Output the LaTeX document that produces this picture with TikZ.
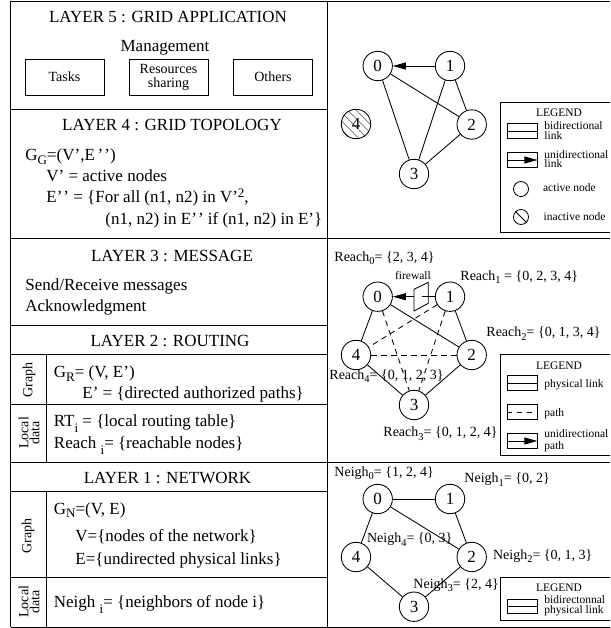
\documentclass[tikz,border=0pt]{standalone}
\usepackage{fontspec}
\setmainfont{Liberation Serif}
\usetikzlibrary{arrows.meta, patterns.meta}
\newcommand{\bodysub}[1]{\raisebox{-3.5pt}{\fontsize{13}{13}\selectfont #1}}
\newcommand{\indexsub}{\raisebox{-6pt}{\fontsize{13}{13}\selectfont i}}
\newcommand{\labelsub}[1]{\raisebox{-3.5pt}{\fontsize{10.5}{10.5}\selectfont #1}}
\newcommand{\twoprime}{'\kern1pt'}

\begin{document}
\begin{tikzpicture}[
  x=1pt, y=-1pt, line width=0.85pt,
  title/.style={anchor=base, inner sep=0pt, font=\fontsize{17}{20}\selectfont},
  body/.style={anchor=base west, inner sep=0pt, font=\fontsize{17}{20}\selectfont},
  reach/.style={anchor=base west, inner sep=0pt, font=\fontsize{14}{16}\selectfont},
  small/.style={anchor=base west, inner sep=0pt, font=\fontsize{11.5}{13}\selectfont},
  bx/.style={draw, minimum width=79pt, minimum height=36pt, inner sep=0pt, align=center, font=\fontsize{14}{14}\selectfont},
  side/.style={rotate=90, inner sep=0pt, align=center, font=\fontsize{14}{11}\selectfont},
  vertex/.style={draw, circle, minimum size=29.4pt, inner sep=0pt, fill=white, font=\fontsize{17}{20}\selectfont},
  bar/.style={draw, minimum width=30pt, minimum height=14.3pt, inner sep=0pt},
  dot/.style={draw, circle, minimum size=15pt, inner sep=0pt},
  oneway/.style={-{Stealth[length=13pt, width=7pt, inset=0pt]}},
  pathline/.style={dash pattern=on 5.5pt off 4.5pt}
]
  \clip (0,0) rectangle (610,628);

  % Frame
  \draw (10.5,1) -- (610,1);
  \draw (10.5,238.5) -- (610,238.5);
  \draw (10.5,462) -- (610,462);
  \draw (10.5,627) -- (610,627);
  \draw (10.5,1) -- (10.5,627);
  \draw (327.5,1) -- (327.5,627);
  \draw (10.5,109) -- (327.5,109);
  \draw (10.5,325) -- (327.5,325);
  \draw (10.5,354) -- (327.5,354);
  \draw (10.5,404) -- (327.5,404);
  \draw (10.5,491) -- (327.5,491);
  \draw (10.5,577) -- (327.5,577);
  \draw (46.5,354) -- (46.5,462);
  \draw (46.5,491) -- (46.5,627);

  % Layer 5
  \node[title] (lay5) at (168,22.5) {LAYER 5 : GRID APPLICATION};
  \node[title] (mgmt) at (165,51.7) {Management};
  \node[bx] (tasks) at (64.5,77) {Tasks};
  \node[bx] (share) at (168.5,77) {Resources\\sharing};
  \node[bx] (others) at (273,77) {Others};

  % Layer 4
  \node[title] (lay4) at (172,131) {LAYER 4 : GRID TOPOLOGY};
  \node[body] (gg) at (25,160.7) {G\bodysub{G}=(V',E\,\twoprime)};
  \node[body] (vact) at (46,181.5) {V' = active nodes};
  \node[body] (eall) at (46,203) {E\twoprime{} = \{For all (n1, n2) in V'\raisebox{5pt}{\fontsize{13}{13}\selectfont 2},};
  \node[body] (eif) at (105,225) {(n1, n2) in E\twoprime{} if (n1, n2) in E'\}};

  % Layer 3
  \node[title] (lay3) at (172,261) {LAYER 3 : MESSAGE};
  \node[body] (send) at (25,290) {Send/Receive messages};
  \node[body] (ack) at (25,311) {Acknowledgment};

  % Layer 2
  \node[title] (lay2) at (170,346.7) {LAYER 2 : ROUTING};
  \node[side] (graph2) at (29,380) {Graph};
  \node[side] (local2) at (29,433) {Local\\data};
  \node[body] (gr) at (53.5,377.7) {G\bodysub{R}= (V, E')};
  \node[body] (edir) at (82,398) {E' = \{directed authorized paths\}};
  \node[body] (rt) at (53.5,426.7) {RT\indexsub{} = \{local routing table\}};
  \node[body] (reachi) at (53.5,448) {Reach \indexsub{}= \{reachable nodes\}};

  % Layer 1
  \node[title] (lay1) at (167.5,483) {LAYER 1 : NETWORK};
  \node[side] (graph1) at (28,535.7) {Graph};
  \node[side] (local1) at (29,601.7) {Local\\data};
  \node[body] (gn) at (53.5,514) {G\bodysub{N}=(V, E)};
  \node[body] (vnet) at (75,541.7) {V=\{nodes of the network\}};
  \node[body] (eund) at (75,564) {E=\{undirected physical links\}};
  \node[body] (neighi) at (53.5,607.7) {Neigh \indexsub{}= \{neighbors of node i\}};

  % Top graph
  \node[vertex] (a0) at (377.7,66) {0};
  \node[vertex] (a1) at (450,66) {1};
  \node[vertex] (a2) at (471.7,124.5) {2};
  \node[vertex] (a3) at (414,174) {3};
  \node[vertex, pattern={Lines[angle=-45, distance=6pt, line width=0.6pt]}, pattern color=black!70] (a4) at (356,124) {4};
  \draw[oneway] (a1) -- (a0);
  \draw (a0) -- (a2);
  \draw (a0) -- (a3);
  \draw (a1) -- (a2);
  \draw (a1) -- (a3);
  \draw (a2) -- (a3);

  % Top legend
  \draw (500,102) rectangle (614,232);
  \node[title, font=\fontsize{11.5}{13}\selectfont] (leg1) at (559,116.7) {LEGEND};
  \node[bar] (bar1) at (522,131) {};
  \draw (bar1.west) -- (bar1.east);
  \node[small] (bi1) at (544,130) {bidirectional};
  \node[small] (bi2) at (544,139.3) {link};
  \node[bar] (bar2) at (522,160) {};
  \draw[oneway] (bar2.west) -- (bar2.east);
  \node[small] (uni1) at (544,159) {unidirectional};
  \node[small] (uni2) at (544,167.7) {link};
  \node[dot] (act) at (521,189) {};
  \node[small] (acttxt) at (542.7,191.7) {active node};
  \node[dot] (ina) at (521,217) {};
  \draw (ina.north west) -- (ina.south east);
  \node[small] (inatxt) at (543.3,220.7) {inactive node};

  % Middle graph
  \node[vertex] (b0) at (377.7,296.7) {0};
  \node[vertex] (b1) at (450,296.7) {1};
  \node[vertex] (b2) at (471.7,355) {2};
  \node[vertex] (b3) at (414,405) {3};
  \node[vertex] (b4) at (356,355) {4};
  \draw (b0) -- (b4);
  \draw (b0) -- (b2);
  \draw (b1) -- (b2);
  \draw (b4) -- (b3);
  \draw (b2) -- (b3);
  \draw[pathline] (b0) -- (b3);
  \draw[pathline] (b1) -- (b3);
  \draw[pathline] (b1) -- (b4);
  \draw[pathline] (b4) -- (b2);
  \draw[oneway] (b1) -- (b0);

  % Firewall
  \draw[fill=white] (414,289.3) -- (428.3,282.3) -- (428.3,303.3) -- (414,311) -- cycle;
  \coordinate (fw) at (421.7,296.7);
  \draw (b1) -- (fw);
  \node[small, anchor=base] (fwtxt) at (413,279) {firewall};

  % Middle labels
  \node[reach] (r0) at (334,261) {Reach\labelsub{0}= \{2, 3, 4\}};
  \node[reach] (r1) at (460,280) {Reach\labelsub{1} = \{0, 2, 3, 4\}};
  \node[reach] (r2) at (486,336.7) {Reach\labelsub{2}= \{0, 1, 3, 4\}};
  \node[reach] (r4) at (329,379) {Reach\labelsub{4}= \{0, 1, 2, 3\}};
  \node[reach] (r3) at (383,436.7) {Reach\labelsub{3}= \{0, 1, 2, 4\}};

  % Middle legend
  \draw (500,354) rectangle (614,455);
  \node[title, font=\fontsize{11.5}{13}\selectfont] (leg2) at (559,369) {LEGEND};
  \node[bar] (bar3) at (522,383) {};
  \draw (bar3.west) -- (bar3.east);
  \node[small] (phys) at (544,387) {physical link};
  \node[bar] (bar4) at (522,412) {};
  \draw[pathline] (bar4.west) -- (bar4.east);
  \node[small] (pathtxt) at (544,416) {path};
  \node[bar] (bar5) at (522,441) {};
  \draw[oneway] (bar5.west) -- (bar5.east);
  \node[small] (uni3) at (544,437.7) {unidirectional};
  \node[small] (uni4) at (544,449.3) {path};

  % Bottom graph
  \node[vertex] (c0) at (377.7,499) {0};
  \node[vertex] (c1) at (450,499) {1};
  \node[vertex] (c2) at (471.7,557) {2};
  \node[vertex] (c3) at (414,606.7) {3};
  \node[vertex] (c4) at (356,557) {4};
  \draw (c0) -- (c1);
  \draw (c0) -- (c2);
  \draw (c1) -- (c2);
  \draw (c0) -- (c4);
  \draw (c4) -- (c3);
  \draw (c2) -- (c3);

  % Bottom labels
  \node[reach] (n0) at (334,476) {Neigh\labelsub{0}= \{1, 2, 4\}};
  \node[reach] (n1) at (464,482.7) {Neigh\labelsub{1}= \{0, 2\}};
  \node[reach] (n2) at (492.7,559) {Neigh\labelsub{2}= \{0, 1, 3\}};
  \node[reach] (n4) at (366.7,542.7) {Neigh\labelsub{4}= \{0, 3\}};
  \node[reach] (n3) at (413,588) {Neigh\labelsub{3}= \{2, 4\}};

  % Bottom legend
  \draw (500,577) rectangle (614,620.7);
  \node[title, font=\fontsize{11.5}{13}\selectfont] (leg3) at (559,591.7) {LEGEND};
  \node[bar] (bar6) at (522,606.3) {};
  \draw (bar6.west) -- (bar6.east);
  \node[small] (bid) at (544,603) {bidirectonnal};
  \node[small] (physb) at (544,613.3) {physical link};
\end{tikzpicture}
\end{document}
